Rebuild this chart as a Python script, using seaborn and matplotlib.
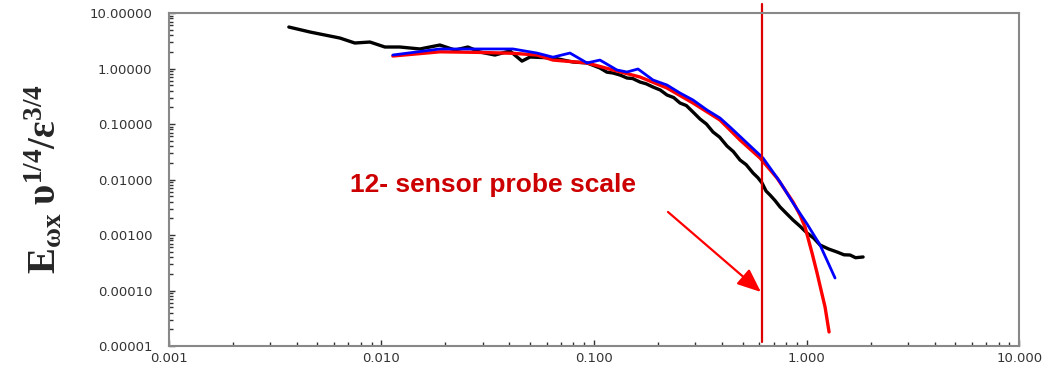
import matplotlib
matplotlib.use("Agg")
import matplotlib.pyplot as plt
import matplotlib.ticker as mticker
import seaborn as sns
import pandas as pd

# ---- data ----
black_x = [0.00367, 0.00461, 0.00638, 0.0075, 0.00883, 0.01039, 0.01222, 0.01518, 0.01885, 0.02218,
           0.02553, 0.02907, 0.03421, 0.04025, 0.04585, 0.04999, 0.06415, 0.07965, 0.09271, 0.1067,
           0.115, 0.1229, 0.133, 0.143, 0.152, 0.1646, 0.176, 0.1895, 0.205, 0.2206,
           0.237, 0.2539, 0.272, 0.2923, 0.3153, 0.338, 0.3631, 0.39, 0.4225, 0.452,
           0.4864, 0.52, 0.5601, 0.59, 0.6175, 0.645, 0.6732, 0.71, 0.7506, 0.80,
           0.864, 0.93, 1.0055, 1.08, 1.1575, 1.27, 1.392, 1.5, 1.602, 1.70, 1.845]
black_y = [5.59, 4.55, 3.54, 2.88, 3.00, 2.44, 2.44, 2.25, 2.65, 2.15,
           2.44, 1.98, 1.75, 2.07, 1.36, 1.61, 1.55, 1.31, 1.26, 1.02,
           0.86, 0.83, 0.76, 0.674, 0.66, 0.571, 0.53, 0.464, 0.41, 0.333,
           0.30, 0.239, 0.215, 0.1645, 0.1231, 0.100, 0.0718, 0.058, 0.0401, 0.032,
           0.02245, 0.0185, 0.0131, 0.0108, 0.00865, 0.0062, 0.00526, 0.0042, 0.0032, 0.0025,
           0.00186, 0.00145, 0.001086, 0.00088, 0.00066, 0.00056, 0.000494, 0.00044, 0.000436, 0.00039, 0.000402]

red_x = [0.01132, 0.01885, 0.02907, 0.04158, 0.0539, 0.06415, 0.09271, 0.1229, 0.1646, 0.2206,
         0.2923, 0.3916, 0.4864, 0.6042, 0.7265, 0.7923, 0.864, 0.932, 0.9838, 1.0614,
         1.1205, 1.170, 1.2221, 1.2762]
red_y = [1.68, 2.0, 1.95, 1.88, 1.75, 1.42, 1.26, 0.94, 0.703, 0.445,
         0.239, 0.118, 0.0515, 0.0244, 0.01064, 0.00647, 0.00393, 0.00229, 0.001393, 0.000474,
         0.000207, 1.02e-4, 5.04e-5, 1.79e-5]

blue_x = [0.01132, 0.01885, 0.04158, 0.0539, 0.06415, 0.0771, 0.09271, 0.1067, 0.1283, 0.143,
          0.1611, 0.1895, 0.2206, 0.2539, 0.2923, 0.3402, 0.3916, 0.4365, 0.5248, 0.6242,
          0.7506, 0.864, 1.0055, 1.1575, 1.3615]
blue_y = [1.75, 2.25, 2.25, 1.90, 1.60, 1.90, 1.26, 1.42, 0.94, 0.865,
          0.98, 0.621, 0.504, 0.362, 0.2707, 0.1788, 0.1283, 0.0883, 0.0455, 0.0244,
          0.00902, 0.00377, 0.00158, 0.00066, 0.000168]

probe_scale_x = 0.62
annotation_text = "12- sensor probe scale"
ylabel_text = r"$\mathbf{E_{\omega x}\;\upsilon^{1/4}/\varepsilon^{3/4}}$"

# ---- style ----
sns.set_theme(style="ticks")
plt.rcParams["font.family"] = ["Liberation Sans", "DejaVu Sans"]
plt.rcParams["mathtext.fontset"] = "custom"
plt.rcParams["mathtext.rm"] = "Liberation Serif:bold"
plt.rcParams["mathtext.it"] = "Liberation Serif:bold"
plt.rcParams["mathtext.bf"] = "Liberation Serif:bold"

fig = plt.figure(figsize=(10.55, 3.75), dpi=100)
ax = fig.add_axes([0.160, 0.0773, 0.806, 0.888])

df_b = pd.DataFrame({"x": black_x, "y": black_y})
df_r = pd.DataFrame({"x": red_x, "y": red_y})
df_u = pd.DataFrame({"x": blue_x, "y": blue_y})

sns.lineplot(data=df_b, x="x", y="y", ax=ax, color="black", lw=2.4, sort=False, estimator=None)
sns.lineplot(data=df_r, x="x", y="y", ax=ax, color="#ff0000", lw=2.4, sort=False, estimator=None)
sns.lineplot(data=df_u, x="x", y="y", ax=ax, color="#0000ff", lw=2.0, sort=False, estimator=None)

ax.set_xscale("log")
ax.set_yscale("log")
ax.set_xlim(0.001, 10)
ax.set_ylim(1e-5, 10)

ax.xaxis.set_major_formatter(mticker.FuncFormatter(lambda v, p: f"{v:.3f}"))
ax.yaxis.set_major_formatter(mticker.FuncFormatter(lambda v, p: f"{v:.5f}"))
ax.xaxis.set_minor_formatter(mticker.NullFormatter())
ax.yaxis.set_minor_formatter(mticker.NullFormatter())
ax.xaxis.set_minor_locator(mticker.LogLocator(base=10, subs=range(2, 10), numticks=20))
ax.yaxis.set_minor_locator(mticker.LogLocator(base=10, subs=range(2, 10), numticks=20))

ax.tick_params(axis="both", which="major", direction="in", length=4, width=1, color="#333333",
               labelsize=9.5, labelcolor="#333333")
ax.tick_params(axis="both", which="minor", direction="in", length=3, width=1, color="#333333")
ax.tick_params(axis="x", which="major", pad=4)
ax.tick_params(axis="y", which="major", pad=12)
for lab in ax.get_xticklabels() + ax.get_yticklabels():
    lab.set_fontfamily("DejaVu Sans")

for s in ax.spines.values():
    s.set_color("#888888")
    s.set_linewidth(1.5)

ax.set_xlabel("")
ax.set_ylabel(ylabel_text, fontsize=28, labelpad=18)

# vertical probe-scale line
ax.axvline(probe_scale_x, ymin=0.012, ymax=1.027, color="#dd0000", lw=1.6, clip_on=False)

# annotation text and arrow
ax.text(0.381, 0.483, annotation_text, transform=ax.transAxes, ha="center", va="center",
        fontsize=19, fontweight="bold", color="#cc0000")
ax.annotate("", xy=(0.61, 9.4e-5), xytext=(0.223, 0.0026),
            arrowprops=dict(arrowstyle="-|>,head_length=1.2,head_width=0.5", color="#ff0000", lw=1.6,
                            shrinkA=0, shrinkB=0))

fig.savefig("out.png", dpi=100)
